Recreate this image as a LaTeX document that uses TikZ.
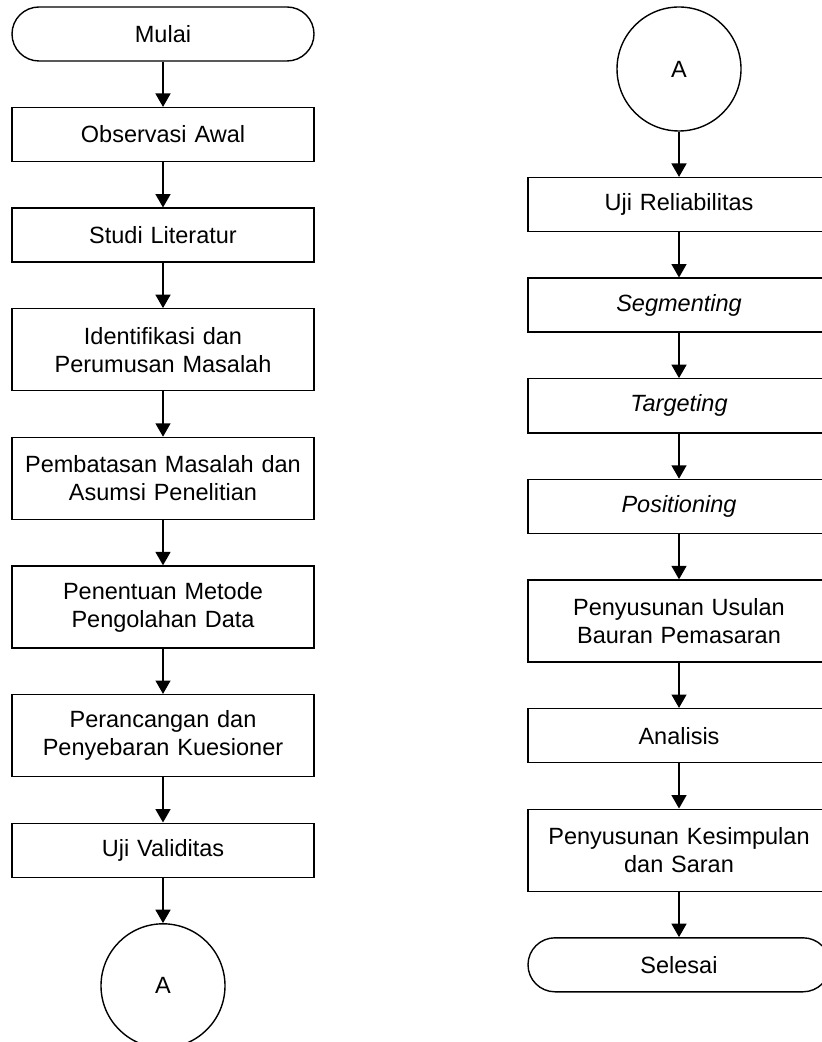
\documentclass[tikz,border=0pt]{standalone}
\usepackage{fontspec}
\setmainfont{Liberation Sans}
\usetikzlibrary{shapes,arrows.meta,positioning}
\tikzstyle{block} = [rectangle, draw, fill=white, 
    text width=145pt, inner sep=3pt, text centered, minimum height=27pt]
\tikzstyle{tallblock} = [block, minimum height=41pt]
\tikzstyle{terminal} = [rectangle, rounded corners=13.5pt, draw, fill=white, 
    text width=145pt, inner sep=3pt, text centered, minimum height=27pt]
\tikzstyle{connector} = [circle, draw, fill=white, minimum size=62pt, inner sep=0pt]
\tikzstyle{line} = [draw, -{Triangle[length=6.7pt,width=7.5pt]}]

\begin{document}
\begin{tikzpicture}[node distance = 22.6pt, line width=0.7pt,
    font=\fontsize{11.75pt}{14pt}\selectfont]
 \useasboundingbox (0,0) rectangle (411pt,-521pt);
 % Place nodes, left column
   \node[terminal] (start) at (81.5pt,-17pt) {Mulai};
    \node [block, below=of start] (obs) {Observasi Awal};
    \node [block, below=of obs] (lit) {Studi Literatur};
    \node [tallblock, below=of lit] (idf) {Identifikasi dan\\Perumusan Masalah};
    \node [tallblock, below=of idf] (bts) {Pembatasan Masalah dan\\Asumsi Penelitian};
    \node [tallblock, below=of bts] (mtd) {Penentuan Metode\\Pengolahan Data};
    \node [tallblock, below=of mtd] (kue) {Perancangan dan\\Penyebaran Kuesioner};
    \node [block, below=of kue] (val) {Uji Validitas};
    \node [connector, below=of val] (A1) {A};
 % Place nodes, right column
    \node [connector] (A2) at (339.5pt,-34.5pt) {A};
    \node [block, below=of A2] (rel) {Uji Reliabilitas};
    \node [block, below=of rel] (seg) {\textit{Segmenting}};
    \node [block, below=of seg] (trg) {\textit{Targeting}};
    \node [block, below=of trg] (pos) {\textit{Positioning}};
    \node [tallblock, below=of pos] (usl) {Penyusunan Usulan\\Bauran Pemasaran};
    \node [block, below=of usl] (ana) {Analisis};
    \node [tallblock, below=of ana] (kes) {Penyusunan Kesimpulan\\dan Saran};
   \node[terminal, below=of kes] (stop) {Selesai};

    % Draw edges 
   \path [line] (start) -- (obs); \path [line] (obs) -- (lit);
   \path [line] (lit) -- (idf); \path [line] (idf) -- (bts);
   \path [line] (bts) -- (mtd); \path [line] (mtd) -- (kue);
   \path [line] (kue) -- (val); \path [line] (val) -- (A1);
   \path [line] (A2) -- (rel); \path [line] (rel) -- (seg);
   \path [line] (seg) -- (trg); \path [line] (trg) -- (pos);
   \path [line] (pos) -- (usl); \path [line] (usl) -- (ana);
   \path [line] (ana) -- (kes); \path [line] (kes) -- (stop);
\end{tikzpicture}
\end{document}
